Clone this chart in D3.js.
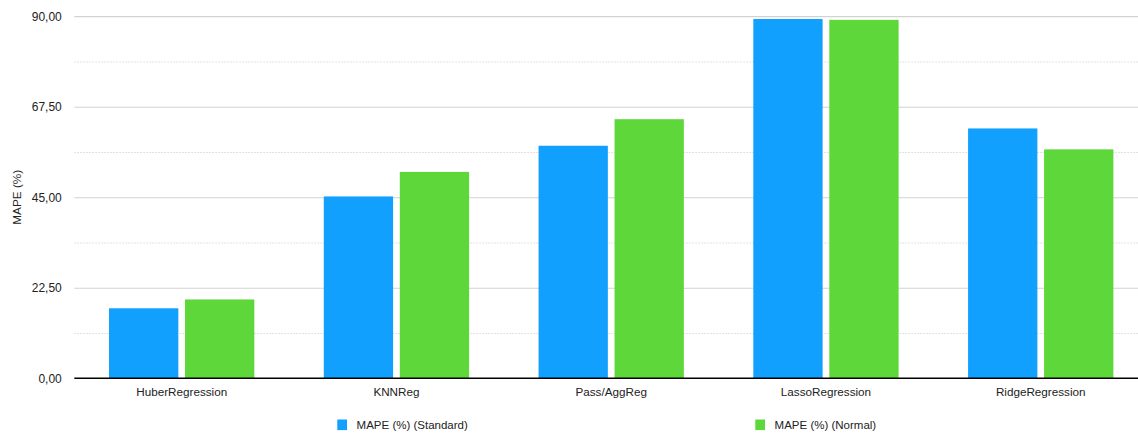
<!DOCTYPE html>
<html>
<head>
<meta charset="utf-8">
<script src="https://cdn.jsdelivr.net/npm/d3@7"></script>
<style>
  html, body { margin: 0; padding: 0; background: #fff; }
  svg { display: block; font-family: "Liberation Sans", Arial, Helvetica, sans-serif; }
</style>
</head>
<body>
<svg id="chart" width="1138" height="433"></svg>
<script>
const categories = ["HuberRegression", "KNNReg", "Pass/AggReg", "LassoRegression", "RidgeRegression"];
const seriesNames = ["MAPE (%) (Standard)", "MAPE (%) (Normal)"];
const standardValues = [17.4, 45.2, 57.8, 89.3, 62.1];
const normalValues = [19.6, 51.3, 64.4, 89.1, 56.9];
const majorTicks = [0, 22.5, 45, 67.5, 90];
const minorTicks = [11.25, 33.75, 56.25, 78.75];
const colors = ["#12a0fe", "#5dd73a"];
const yTitle = "MAPE (%)";

const svg = d3.select("#chart");
const plotLeft = 74.3, plotRight = 1148.1, plotTop = 16.2, plotBottom = 378.3;
const fontFam = "'Liberation Sans', Arial, sans-serif";

const locale = d3.formatLocale({ decimal: ",", thousands: ".", grouping: [3], currency: ["", "€"] });
const fmt = locale.format(".2f");

const y = d3.scaleLinear().domain([0, 90]).range([plotBottom, plotTop]);
const x0 = d3.scaleBand().domain(categories).range([plotLeft, plotRight]).paddingInner(0.3234).paddingOuter(0.1617);
const x1 = d3.scaleBand().domain(seriesNames).range([0, x0.bandwidth()]).paddingInner(0.088);

// minor dotted gridlines
svg.append("g")
  .attr("transform", `translate(${plotLeft},0)`)
  .call(d3.axisRight(y).tickValues(minorTicks).tickSize(1138 - plotLeft).tickFormat(""))
  .call(g => g.select(".domain").remove())
  .call(g => g.selectAll("line").attr("stroke", "#d9d9d9").attr("stroke-width", 1).attr("stroke-dasharray", "1.5,1.5"));

// major gridlines
svg.append("g")
  .attr("transform", `translate(${plotLeft},0)`)
  .call(d3.axisRight(y).tickValues(majorTicks.filter(d => d > 0)).tickSize(1138 - plotLeft).tickFormat(""))
  .call(g => g.select(".domain").remove())
  .call(g => g.selectAll("line").attr("stroke", "#d2d2d2").attr("stroke-width", 1.2));

// y labels
svg.append("g")
  .attr("transform", `translate(${plotLeft},0)`)
  .call(d3.axisLeft(y).tickValues(majorTicks).tickSize(0).tickPadding(12.5).tickFormat(fmt))
  .call(g => g.select(".domain").remove())
  .call(g => g.selectAll("text").attr("fill", "#222").attr("font-size", 12).attr("font-family", fontFam));

// y title
svg.append("text")
  .attr("transform", `translate(21,${(plotTop + plotBottom) / 2}) rotate(-90)`)
  .attr("text-anchor", "middle")
  .attr("font-size", 11.8)
  .attr("fill", "#222")
  .text(yTitle);

// bars
const data = categories.map((c, i) => ({ cat: c, vals: [standardValues[i], normalValues[i]] }));
const groups = svg.append("g").selectAll("g").data(data).join("g")
  .attr("transform", d => `translate(${x0(d.cat)},0)`);
groups.selectAll("rect").data(d => d.vals.map((v, j) => ({ v, j })))
  .join("rect")
  .attr("x", d => x1(seriesNames[d.j]))
  .attr("width", x1.bandwidth())
  .attr("y", d => y(d.v))
  .attr("height", d => y(0) - y(d.v))
  .attr("fill", d => colors[d.j]);

// x axis
svg.append("g")
  .attr("transform", `translate(0,${plotBottom})`)
  .call(d3.axisBottom(x0).tickSize(0).tickPadding(9.5))
  .call(g => g.select(".domain").attr("stroke", "#000").attr("stroke-width", 1.5).attr("d", `M${plotLeft},0H1138`))
  .call(g => g.selectAll("text").attr("fill", "#222").attr("font-size", 11.7).attr("font-family", fontFam));

// legend
const legendX = [337.3, 755.3];
const legend = svg.append("g").selectAll("g").data(seriesNames).join("g")
  .attr("transform", (d, i) => `translate(${legendX[i]},419.5)`);
legend.append("rect").attr("width", 9.7).attr("height", 10.6).attr("fill", (d, i) => colors[i]);
legend.append("text").attr("x", 19.3).attr("y", 9.6).attr("font-size", 11.5).attr("font-family", fontFam).attr("fill", "#222").text(d => d);
</script>
</body>
</html>
